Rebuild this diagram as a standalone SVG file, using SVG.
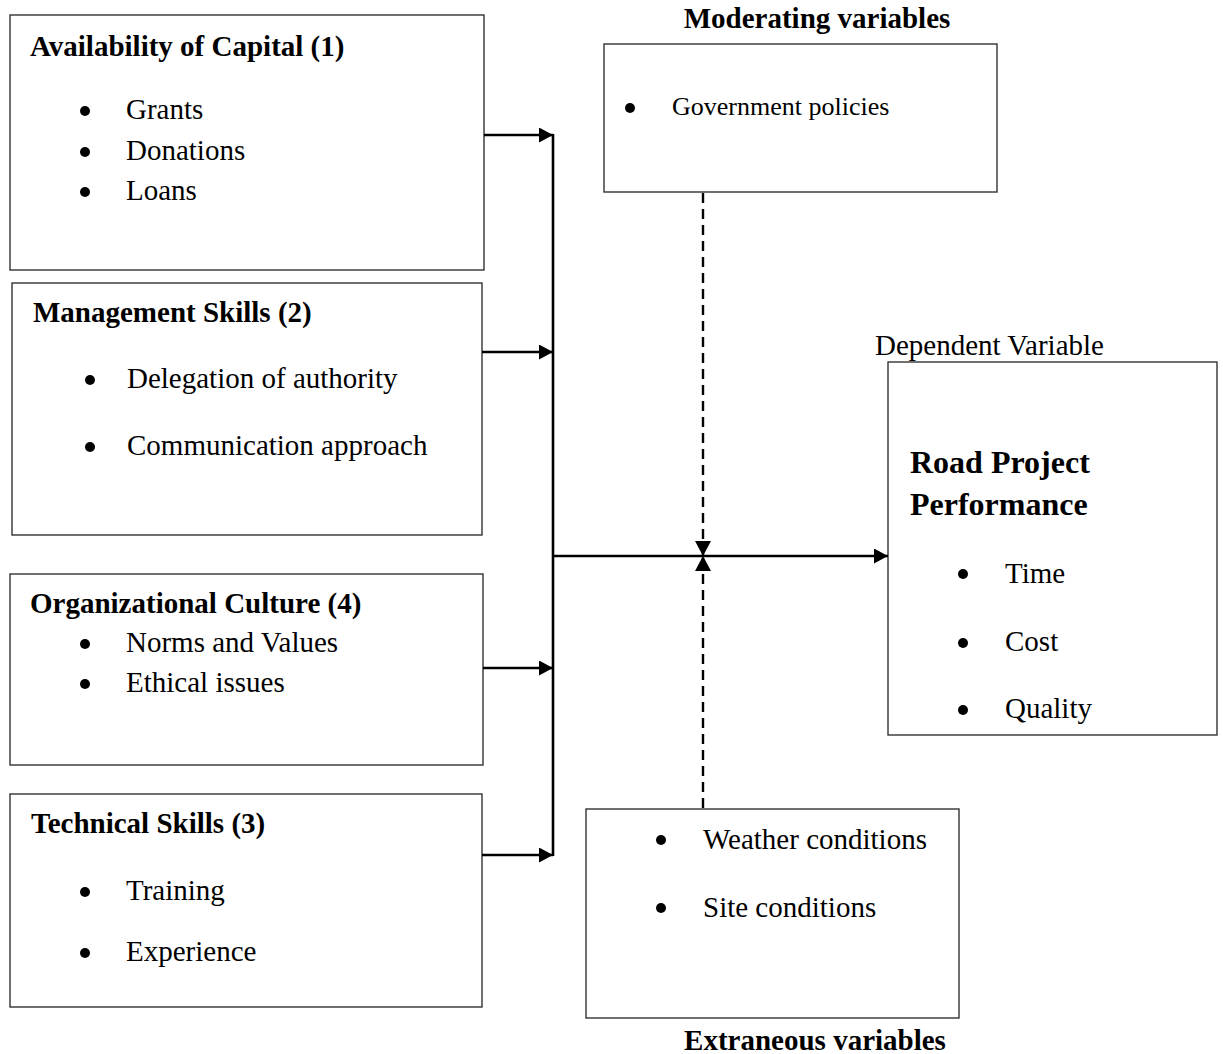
<svg xmlns="http://www.w3.org/2000/svg" width="1223" height="1054" viewBox="0 0 1223 1054">
<style>
text{font-family:"Liberation Serif","Times New Roman",serif;fill:#000}
.h{font-weight:bold;font-size:29px}
.t{font-size:29px}
.box{fill:#fff;stroke:#333;stroke-width:1.4}
.c{stroke:#000;stroke-width:2.6;fill:none}
.d{stroke:#000;stroke-width:2.4;fill:none;stroke-dasharray:10,6}
</style>
<defs>
<marker id="ah" viewBox="0 0 14 15" refX="14" refY="7.5" markerWidth="14" markerHeight="15" markerUnits="userSpaceOnUse" orient="auto">
<path d="M0,0 L14,7.5 L0,15 Z" fill="#000"/>
</marker>
<marker id="ad" viewBox="0 0 15 16" refX="15" refY="8" markerWidth="15" markerHeight="16" markerUnits="userSpaceOnUse" orient="auto">
<path d="M0,0 L15,8 L0,16 Z" fill="#000"/>
</marker>
</defs>

<g id="capital">
<rect class="box" x="10" y="15" width="474" height="255"/>
<text class="h" x="30" y="56">Availability of Capital (1)</text>
<circle cx="85" cy="111" r="5"/><text class="t" x="126" y="119">Grants</text>
<circle cx="85" cy="152" r="5"/><text class="t" x="126" y="160">Donations</text>
<circle cx="85" cy="192" r="5"/><text class="t" x="126" y="200">Loans</text>
</g>

<g id="management">
<rect class="box" x="12" y="283" width="470" height="252"/>
<text class="h" x="33" y="322">Management Skills (2)</text>
<circle cx="90" cy="380" r="5"/><text class="t" x="127" y="388">Delegation of authority</text>
<circle cx="90" cy="447" r="5"/><text class="t" x="127" y="455">Communication approach</text>
</g>

<g id="culture">
<rect class="box" x="10" y="574" width="473" height="191"/>
<text class="h" x="30" y="613">Organizational Culture (4)</text>
<circle cx="85" cy="644" r="5"/><text class="t" x="126" y="652">Norms and Values</text>
<circle cx="85" cy="684" r="5"/><text class="t" x="126" y="692">Ethical issues</text>
</g>

<g id="technical">
<rect class="box" x="10" y="794" width="472" height="213"/>
<text class="h" x="31" y="833">Technical Skills (3)</text>
<circle cx="85" cy="892" r="5"/><text class="t" x="126" y="900">Training</text>
<circle cx="85" cy="953" r="5"/><text class="t" x="126" y="961">Experience</text>
</g>

<g id="moderating">
<text class="h" x="817" y="28" text-anchor="middle">Moderating variables</text>
<rect class="box" x="604" y="44" width="393" height="148"/>
<circle cx="630" cy="108" r="5"/><text x="672" y="115" style="font-size:26px">Government policies</text>
</g>

<g id="dependent">
<text class="t" x="875" y="355">Dependent Variable</text>
<rect class="box" x="888" y="362" width="329" height="373"/>
<text x="910" y="473" style="font-weight:bold;font-size:32px">Road Project</text>
<text x="910" y="515" style="font-weight:bold;font-size:32px">Performance</text>
<circle cx="963" cy="574" r="5"/><text class="t" x="1005" y="583">Time</text>
<circle cx="963" cy="643" r="5"/><text class="t" x="1005" y="651">Cost</text>
<circle cx="963" cy="710" r="5"/><text class="t" x="1005" y="718">Quality</text>
</g>

<g id="extraneous">
<rect class="box" x="586" y="809" width="373" height="209"/>
<circle cx="661" cy="840" r="5"/><text class="t" x="703" y="849">Weather conditions</text>
<circle cx="661" cy="908" r="5"/><text class="t" x="703" y="917">Site conditions</text>
<text class="h" x="815" y="1050" text-anchor="middle">Extraneous variables</text>
</g>

<g id="connectors">
<line class="c" x1="553" y1="134" x2="553" y2="856"/>
<line class="c" x1="484" y1="135" x2="553" y2="135" marker-end="url(#ah)"/>
<line class="c" x1="482" y1="352" x2="553" y2="352" marker-end="url(#ah)"/>
<line class="c" x1="483" y1="668" x2="553" y2="668" marker-end="url(#ah)"/>
<line class="c" x1="482" y1="855" x2="553" y2="855" marker-end="url(#ah)"/>
<line class="c" x1="553" y1="556" x2="888" y2="556" marker-end="url(#ah)"/>
<line class="d" x1="703" y1="193" x2="703" y2="556" marker-end="url(#ad)"/>
<line class="d" x1="703" y1="808" x2="703" y2="556" marker-end="url(#ad)"/>
</g>
</svg>
